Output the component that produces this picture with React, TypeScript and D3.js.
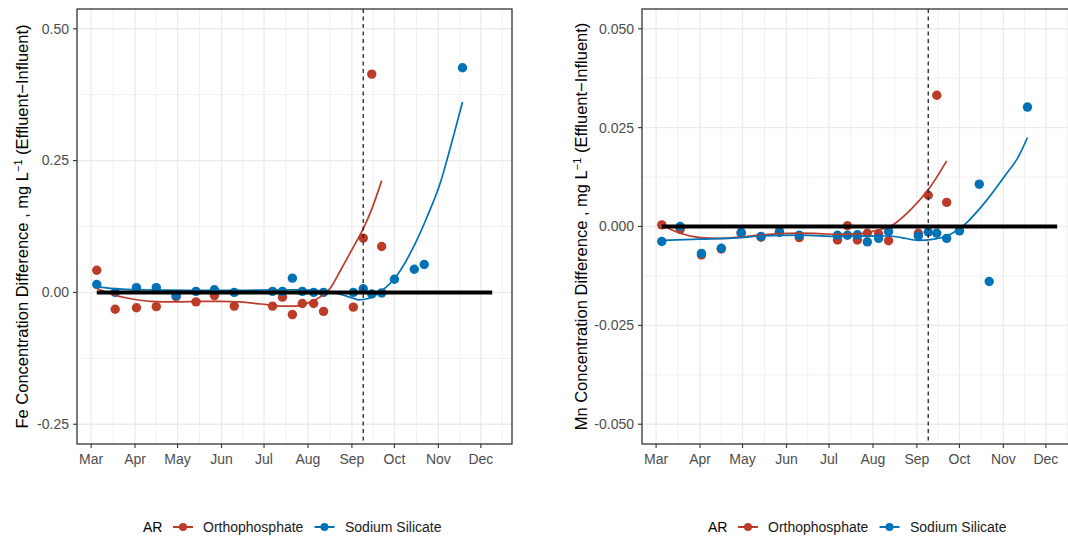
import React from 'react';
import * as d3 from 'd3';

// ---------- DATA ----------
const sampleDates = [
  '2020-03-05', '2020-03-18', '2020-04-02', '2020-04-16', '2020-04-30', '2020-05-14',
  '2020-05-27', '2020-06-10', '2020-07-07', '2020-07-14', '2020-07-21', '2020-07-28',
  '2020-08-05', '2020-08-12', '2020-09-02', '2020-09-09', '2020-09-15', '2020-09-22',
  '2020-10-01', '2020-10-15', '2020-10-22', '2020-11-18',
];

// Fe (left panel)
const feOrtho = [
  0.042, -0.032, -0.029, -0.027, -0.008, -0.018, -0.006, -0.026, -0.026, -0.009,
  -0.042, -0.021, -0.021, -0.036, -0.028, 0.103, 0.414, 0.087,
];
const feSilicate = [
  0.015, 0.0, 0.009, 0.009, -0.006, 0.002, 0.005, 0.0, 0.002, 0.002, 0.027,
  0.002, 0.0, 0.0, 0.0, 0.007, -0.003, -0.001, 0.025, 0.044, 0.053, 0.426,
];

// Mn (right panel)
const mnOrtho = [
  0.0004, -0.0007, -0.0072, -0.0057, -0.0017, -0.0027, -0.0013, -0.0028, -0.0034, 0.0002,
  -0.0034, -0.0017, -0.0019, -0.0036, -0.0017, 0.0079, 0.0332, 0.0061,
];
const mnSilicate = [
  -0.0038, 0.0, -0.0068, -0.0055, -0.0015, -0.0025, -0.0015, -0.0022, -0.0022, -0.0022,
  -0.0021, -0.0039, -0.003, -0.0013, -0.0024, -0.0014, -0.0017, -0.003, -0.0011, 0.0107,
  -0.0139, 0.0302,
];

// smoothed (loess) fits
const feOrthoFitDates = [
  '2020-03-05', '2020-03-15', '2020-03-29', '2020-04-12', '2020-04-30', '2020-05-17',
  '2020-05-31', '2020-06-14', '2020-06-29', '2020-07-13', '2020-07-23', '2020-08-03',
  '2020-08-10', '2020-08-17', '2020-08-24', '2020-09-02', '2020-09-09', '2020-09-15', '2020-09-22',
];
const feOrthoFit = [
  0.008, -0.003, -0.012, -0.017, -0.018, -0.017, -0.017, -0.018, -0.022, -0.026,
  -0.026, -0.018, -0.008, 0.009, 0.042, 0.086, 0.121, 0.158, 0.212,
];
const feSilicateFitDates = [
  '2020-03-05', '2020-03-17', '2020-04-05', '2020-05-17', '2020-06-14', '2020-07-06',
  '2020-07-23', '2020-08-03', '2020-08-15', '2020-08-24', '2020-09-02', '2020-09-06',
  '2020-09-12', '2020-09-19', '2020-09-22', '2020-10-01', '2020-10-15', '2020-10-24',
  '2020-11-03', '2020-11-06', '2020-11-18',
];
const feSilicateFit = [
  0.011, 0.007, 0.005, 0.004, 0.004, 0.005, 0.005, 0.004, 0.002, -0.004, -0.011,
  -0.014, -0.012, -0.003, 0.003, 0.026, 0.089, 0.143, 0.213, 0.241, 0.361,
];
const mnOrthoFitDates = [
  '2020-03-05', '2020-03-18', '2020-04-01', '2020-04-15', '2020-04-29', '2020-05-13',
  '2020-05-27', '2020-06-10', '2020-06-24', '2020-07-08', '2020-07-24', '2020-08-03',
  '2020-08-14', '2020-08-28', '2020-09-10', '2020-09-22',
];
const mnOrthoFit = [
  0.0004, -0.0017, -0.0028, -0.003, -0.0027, -0.0022, -0.0018, -0.0017, -0.0018,
  -0.002, -0.0018, -0.001, 0.0002, 0.0044, 0.0098, 0.0166,
];
const mnSilicateFitDates = [
  '2020-03-05', '2020-04-01', '2020-04-30', '2020-05-14', '2020-06-11', '2020-07-08',
  '2020-08-12', '2020-08-21', '2020-09-02', '2020-09-13', '2020-09-22', '2020-10-05',
  '2020-10-19', '2020-11-02', '2020-11-12', '2020-11-18',
];
const mnSilicateFit = [
  -0.0035, -0.0032, -0.0028, -0.0024, -0.0022, -0.0025, -0.0024, -0.0028, -0.0035,
  -0.0032, -0.0024, 0.0006, 0.0061, 0.0128, 0.0179, 0.0225,
];

const zeroLineDates = ['2020-03-05', '2020-12-09'];
const eventDate = '2020-09-09';

const feTicks = [-0.25, 0, 0.25, 0.5];
const mnTicks = [-0.05, -0.025, 0, 0.025, 0.05];
const feLimits = [-0.25, 0.5];
const mnLimits = [-0.05, 0.05];

const seriesNames = ['Orthophosphate', 'Sodium Silicate'];
const seriesColors = ['#BC3C29', '#0072B5'];
const legendTitle = 'AR';

// ---------- HELPERS ----------
const parse = d3.timeParse('%Y-%m-%d');
const FONT = "'Liberation Sans', Arial, Helvetica, sans-serif";

const allDates = [...sampleDates, ...zeroLineDates].map((d) => parse(d) as Date);
const [dMin, dMax] = d3.extent(allDates) as [Date, Date];
const span = +dMax - +dMin;
const xDomain = [new Date(+dMin - span * 0.05), new Date(+dMax + span * 0.05)];

function expand(lim: number[]) {
  const r = lim[1] - lim[0];
  return [lim[0] - r * 0.05, lim[1] + r * 0.05];
}

type PanelCfg = {
  left: number;
  top: number;
  width: number;
  height: number;
  limits: number[];
  ticks: number[];
  decimals: number;
  element: string;
  titleX: number;
  labelX: number;
  legendX: number;
  ortho: number[];
  silicate: number[];
  orthoFitDates: string[];
  orthoFit: number[];
  silicateFitDates: string[];
  silicateFit: number[];
  id: string;
};

function Panel({ cfg }: { cfg: PanelCfg }) {
  const { left, top, width, height } = cfg;
  const x = d3.scaleTime().domain(xDomain).range([left, left + width]);
  const y = d3.scaleLinear().domain(expand(cfg.limits)).range([top + height, top]);

  const majors = d3.timeMonth.range(new Date(2020, 2, 1), new Date(2020, 11, 2));
  const minors: Date[] = [];
  for (let i = 0; i < majors.length; i++) {
    const a = majors[i];
    const b = i < majors.length - 1 ? majors[i + 1] : new Date(+a + (+a - +majors[i - 1]));
    minors.push(new Date((+a + +b) / 2));
  }
  const yMinors: number[] = [];
  for (let i = 0; i < cfg.ticks.length - 1; i++) yMinors.push((cfg.ticks[i] + cfg.ticks[i + 1]) / 2);

  const line = d3
    .line<[Date, number]>()
    .x((d) => x(d[0]))
    .y((d) => y(d[1]))
    .curve(d3.curveMonotoneX);

  const orthoPts = cfg.ortho.map((v, i) => [parse(sampleDates[i]) as Date, v] as [Date, number]);
  const silPts = cfg.silicate.map((v, i) => [parse(sampleDates[i]) as Date, v] as [Date, number]);
  const orthoFit = cfg.orthoFit.map((v, i) => [parse(cfg.orthoFitDates[i]) as Date, v] as [Date, number]);
  const silFit = cfg.silicateFit.map((v, i) => [parse(cfg.silicateFitDates[i]) as Date, v] as [Date, number]);

  const ev = x(parse(eventDate) as Date);
  const z0 = x(parse(zeroLineDates[0]) as Date);
  const z1 = x(parse(zeroLineDates[1]) as Date);
  const cy = top + height / 2;
  const fmt = (v: number) => (v < 0 ? '-' : '') + Math.abs(v).toFixed(cfg.decimals);

  return (
    <g>
      <defs>
        <clipPath id={`clip-${cfg.id}`}>
          <rect x={left} y={top} width={width} height={height} />
        </clipPath>
      </defs>
      <rect x={left} y={top} width={width} height={height} fill="#fff" />
      <g clipPath={`url(#clip-${cfg.id})`}>
        {minors.map((d, i) => (
          <line key={'vm' + i} x1={x(d)} x2={x(d)} y1={top} y2={top + height} stroke="#F0F0F0" strokeWidth={1} />
        ))}
        {yMinors.map((v, i) => (
          <line key={'hm' + i} x1={left} x2={left + width} y1={y(v)} y2={y(v)} stroke="#F0F0F0" strokeWidth={1} />
        ))}
        {majors.map((d, i) => (
          <line key={'vM' + i} x1={x(d)} x2={x(d)} y1={top} y2={top + height} stroke="#EBEBEB" strokeWidth={1.3} />
        ))}
        {cfg.ticks.map((v, i) => (
          <line key={'hM' + i} x1={left} x2={left + width} y1={y(v)} y2={y(v)} stroke="#EBEBEB" strokeWidth={1.3} />
        ))}
        {[orthoPts, silPts].map((pts, s) =>
          pts.map((p, i) => (
            <circle key={`p${s}-${i}`} cx={x(p[0])} cy={y(p[1])} r={4.7} fill={seriesColors[s]} />
          ))
        )}
        {[orthoFit, silFit].map((pts, s) => (
          <path key={'f' + s} d={line(pts) || ''} fill="none" stroke={seriesColors[s]} strokeWidth={1.7} />
        ))}
        <line x1={z0} x2={z1} y1={y(0)} y2={y(0)} stroke="#000" strokeWidth={4} />
        <line x1={ev} x2={ev} y1={top} y2={top + height} stroke="#222" strokeWidth={1.3} strokeDasharray="4,3.5" />
      </g>
      <rect x={left} y={top} width={width} height={height} fill="none" stroke="#333" strokeWidth={1.3} />
      {/* x axis */}
      {majors.map((d, i) => (
        <g key={'xt' + i}>
          <line x1={x(d)} x2={x(d)} y1={top + height} y2={top + height + 4} stroke="#333" strokeWidth={1.1} />
          <text x={x(d)} y={top + height + 20} textAnchor="middle" fontSize={14} fill="#4D4D4D" fontFamily={FONT}>
            {d3.timeFormat('%b')(d)}
          </text>
        </g>
      ))}
      {/* y axis */}
      {cfg.ticks.map((v, i) => (
        <g key={'yt' + i}>
          <line x1={left - 4} x2={left} y1={y(v)} y2={y(v)} stroke="#333" strokeWidth={1.1} />
          <text x={cfg.labelX} y={y(v)} dy="0.35em" textAnchor="end" fontSize={14} fill="#4D4D4D" fontFamily={FONT}>
            {fmt(v)}
          </text>
        </g>
      ))}
      <text
        transform={`translate(${cfg.titleX},${cy}) rotate(-90)`}
        textAnchor="middle"
        fontSize={16.5}
        fill="#000"
        fontFamily={FONT}
      >
        {`${cfg.element} Concentration Difference , mg L`}
        <tspan dy={-6} fontSize={11}>
          {'−1'}
        </tspan>
        <tspan dy={6}>{' (Effluent−Influent)'}</tspan>
      </text>
      {/* legend */}
      <g fontFamily={FONT} fontSize={14}>
        <text x={cfg.legendX} y={532} fill="#000">
          {legendTitle}
        </text>
        {seriesNames.map((nm, s) => {
          const kc = cfg.legendX + (s === 0 ? 40 : 181.5);
          const tx = cfg.legendX + (s === 0 ? 60 : 202);
          return (
            <g key={'lg' + s}>
              <line x1={kc - 10} x2={kc + 10} y1={527} y2={527} stroke={seriesColors[s]} strokeWidth={2} />
              <circle cx={kc} cy={527} r={4} fill={seriesColors[s]} />
              <text x={tx} y={532} fill="#1a1a1a">
                {nm}
              </text>
            </g>
          );
        })}
      </g>
    </g>
  );
}

const panels: PanelCfg[] = [
  {
    id: 'fe', left: 77, top: 9, width: 435, height: 435, limits: feLimits, ticks: feTicks, decimals: 2,
    element: 'Fe', titleX: 27.5, labelX: 69, legendX: 143,
    ortho: feOrtho, silicate: feSilicate,
    orthoFitDates: feOrthoFitDates, orthoFit: feOrthoFit,
    silicateFitDates: feSilicateFitDates, silicateFit: feSilicateFit,
  },
  {
    id: 'mn', left: 642, top: 9, width: 435, height: 435, limits: mnLimits, ticks: mnTicks, decimals: 3,
    element: 'Mn', titleX: 587, labelX: 634, legendX: 708,
    ortho: mnOrtho, silicate: mnSilicate,
    orthoFitDates: mnOrthoFitDates, orthoFit: mnOrthoFit,
    silicateFitDates: mnSilicateFitDates, silicateFit: mnSilicateFit,
  },
];

export default function App() {
  return (
    <svg
      width={1068}
      height={538}
      viewBox="0 0 1068 538"
      style={{ position: 'absolute', left: 0, top: 0, background: '#fff', display: 'block' }}
    >
      <rect x={0} y={0} width={1068} height={538} fill="#fff" />
      {panels.map((p) => (
        <Panel key={p.id} cfg={p} />
      ))}
    </svg>
  );
}
